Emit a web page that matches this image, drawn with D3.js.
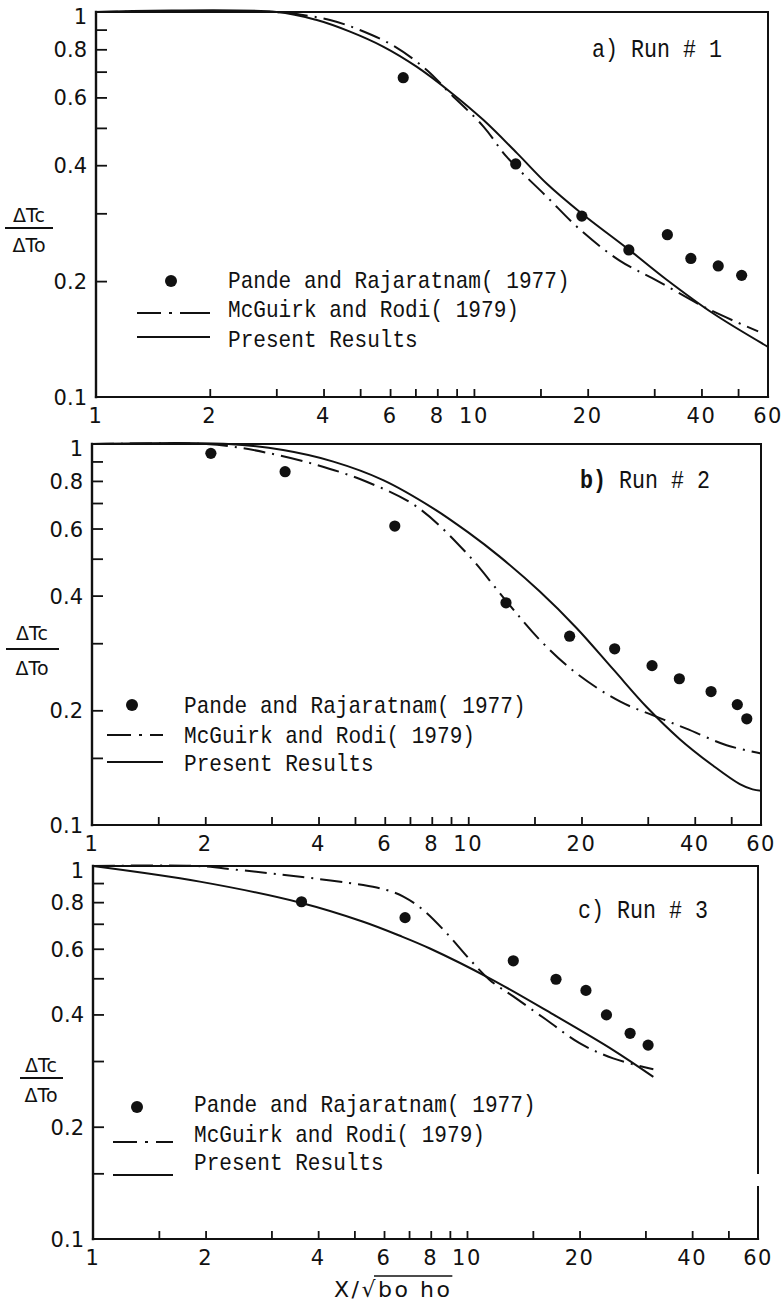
<!DOCTYPE html>
<html>
<head>
<meta charset="utf-8">
<script src="https://cdn.jsdelivr.net/npm/d3@7"></script>
<style>
  html, body { margin: 0; padding: 0; background: #fff; }
  svg { display: block; }
</style>
</head>
<body>
<svg id="chart" width="784" height="1308"></svg>
<script>
// ---- tick values (log–log axes) ----
const xTickLabels = [1, 2, 4, 6, 8, 10, 20, 40, 60];
const xMinorTicks = [1.5, 3, 5, 7, 9, 15, 30, 50];
const yTickLabels = [1, 0.8, 0.6, 0.4, 0.2, 0.1];
const yMinorTicks = [0.9, 0.7, 0.5, 0.3, 0.15];

const legendLabels = ["Pande and Rajaratnam( 1977)", "McGuirk and Rodi( 1979)", "Present Results"];
const runLetters = ["a)", "b)", "c)"];
const runTitles = ["Run # 1", "Run # 2", "Run # 3"];

// ---- Run 1: [x/sqrt(bo ho), ΔTc/ΔTo] ----
const run1Measured = [[6.5, 0.675], [12.9, 0.403], [19.3, 0.295], [25.7, 0.241], [32.5, 0.264], [37.5, 0.229], [44.3, 0.219], [51.1, 0.207]];
const run1McGuirk = [[1, 1], [3, 1], [3.46, 0.985], [4.16, 0.953], [4.99, 0.898], [6.18, 0.813], [7.5, 0.707], [8.64, 0.615], [10.6, 0.504], [12.2, 0.421], [15.6, 0.331], [19.1, 0.272], [24.3, 0.226], [30.4, 0.201], [41.3, 0.170], [56.5, 0.148]];
const run1Present = [[1, 1], [3, 1], [3.84, 0.953], [4.7, 0.889], [5.75, 0.813], [7.05, 0.721], [8.64, 0.621], [10.6, 0.524], [13, 0.43], [15.6, 0.358], [19.1, 0.302], [25.9, 0.240], [32.3, 0.202], [42.9, 0.165], [60, 0.135]];

// ---- Run 2 ----
const run2Measured = [[2.07, 0.945], [3.26, 0.846], [6.38, 0.609], [12.6, 0.383], [18.6, 0.313], [24.5, 0.29], [30.8, 0.262], [36.4, 0.242], [44.2, 0.224], [51.9, 0.207], [55.0, 0.19]];
const run2McGuirk = [[1, 1], [2.0, 1.0], [2.37, 0.984], [2.91, 0.949], [3.96, 0.881], [5.37, 0.796], [7.29, 0.685], [9.9, 0.517], [12.65, 0.386], [15.5, 0.306], [19.4, 0.25], [25.3, 0.211], [31, 0.194], [38, 0.179], [48.6, 0.162], [60, 0.154]];
const run2Present = [[1, 1], [2.3, 1.0], [3.22, 0.964], [4.38, 0.899], [5.94, 0.804], [8.07, 0.678], [10, 0.586], [12.1, 0.507], [15.5, 0.41], [19.4, 0.329], [24.3, 0.256], [29.8, 0.204], [36.5, 0.168], [44.8, 0.143], [52.7, 0.128], [57, 0.124], [60, 0.123]];

// ---- Run 3 ----
const run3Measured = [[3.61, 0.802], [6.83, 0.727], [13.3, 0.557], [17.3, 0.497], [20.8, 0.464], [23.6, 0.399], [27.3, 0.356], [30.5, 0.331]];
const run3McGuirk = [[1, 1], [1.9, 1.0], [2.4, 0.978], [2.97, 0.956], [3.58, 0.936], [5.28, 0.889], [6.1, 0.862], [6.76, 0.828], [7.64, 0.762], [8.83, 0.66], [10.2, 0.56], [11.5, 0.495], [13.3, 0.447], [16.3, 0.387], [20, 0.335], [24.6, 0.305], [31.5, 0.285]];
const run3Present = [[1, 1], [1.93, 0.908], [3.61, 0.796], [5.28, 0.709], [6.62, 0.650], [7.96, 0.601], [11.5, 0.5], [17, 0.40], [24.6, 0.321], [31.5, 0.272]];

const runs = [
  { measured: run1Measured, mcguirk: run1McGuirk, present: run1Present },
  { measured: run2Measured, mcguirk: run2McGuirk, present: run2Present },
  { measured: run3Measured, mcguirk: run3McGuirk, present: run3Present }
];

// ---- panel geometry ----
const panels = [
  { left: 96, right: 768, top: 12, bottom: 397, minorX: xMinorTicks.filter(d => d !== 1.5), minorY: yMinorTicks.filter(d => d !== 0.15),
    title: { x: 592, y: 57, bold: false },
    yLab: { cx: 29, top: 222, bar: 228, bot: 252, x0: 5, x1: 53 },
    legend: { dot: [171, 281], lineX: [137, 210], dashY: 313, solidY: 337, textX: 228, rows: [288, 317, 347] } },
  { left: 92, right: 761, top: 444, bottom: 825, minorX: xMinorTicks, minorY: yMinorTicks,
    title: { x: 580, y: 488, bold: true },
    yLab: { cx: 32, top: 640, bar: 649, bot: 675, x0: 6, x1: 59 },
    legend: { dot: [132, 705], lineX: [107, 163], dashY: 735, solidY: 762, textX: 184, rows: [713, 743, 771] } },
  { left: 93, right: 758, top: 866, bottom: 1239, minorX: xMinorTicks, minorY: yMinorTicks, rightGap: [1173, 1187],
    title: { x: 578, y: 918, bold: false },
    yLab: { cx: 41, top: 1072, bar: 1078, bot: 1102, x0: 20, x1: 63 },
    legend: { dot: [137, 1107], lineX: [113, 173], dashY: 1142, solidY: 1175, textX: 194, rows: [1112, 1142, 1170] } }
];

const svg = d3.select("#chart");
const ink = "#111";
const sansFont = "'DejaVu Sans', sans-serif";
const monoFont = "'Liberation Mono', monospace";
const dashDot = "22,7,2,7";
const monoCharW = 12.65;

function monoText(g, x, y, str, opts = {}) {
  return g.append("text")
    .attr("x", x).attr("y", y)
    .attr("font-family", monoFont)
    .attr("font-size", opts.size || 24)
    .attr("font-weight", opts.bold ? "bold" : "normal")
    .attr("fill", ink)
    .attr("textLength", str.length * (opts.charW || monoCharW))
    .attr("lengthAdjust", "spacingAndGlyphs")
    .text(str);
}

panels.forEach((p, i) => {
  const run = runs[i];
  const g = svg.append("g");

  const x = d3.scaleLog().domain([1, 60]).range([p.left, p.right]);
  const y = d3.scaleLog().domain([0.1, 1]).range([p.bottom, p.top]);

  // inward ticks on the bottom axis
  const xAxis = d3.axisTop(x)
    .tickValues(xTickLabels.slice(1, -1).concat(p.minorX))
    .tickSize(8).tickFormat("");
  g.append("g").attr("transform", `translate(0,${p.bottom})`).call(xAxis)
    .call(s => s.select(".domain").remove())
    .call(s => s.selectAll("line").attr("stroke", ink).attr("stroke-width", 1.8));

  // inward ticks on the left axis
  const yAxis = d3.axisRight(y)
    .tickValues(yTickLabels.slice(1, -1).concat(p.minorY))
    .tickSize(11).tickFormat("");
  g.append("g").attr("transform", `translate(${p.left},0)`).call(yAxis)
    .call(s => s.select(".domain").remove())
    .call(s => s.selectAll("line").attr("stroke", ink).attr("stroke-width", 1.8));

  // frame
  const frame = g.append("g").attr("stroke", ink).attr("fill", "none").attr("stroke-linecap", "square");
  frame.append("line").attr("x1", p.left).attr("x2", p.right).attr("y1", p.top).attr("y2", p.top).attr("stroke-width", 2);
  frame.append("line").attr("x1", p.left).attr("x2", p.right).attr("y1", p.bottom).attr("y2", p.bottom).attr("stroke-width", 2.2);
  frame.append("line").attr("x1", p.left).attr("x2", p.left).attr("y1", p.top).attr("y2", p.bottom).attr("stroke-width", 2.4);
  if (p.rightGap) {
    frame.append("line").attr("x1", p.right).attr("x2", p.right).attr("y1", p.top).attr("y2", p.rightGap[0]).attr("stroke-width", 2);
    frame.append("line").attr("x1", p.right).attr("x2", p.right).attr("y1", p.rightGap[1]).attr("y2", p.bottom).attr("stroke-width", 2);
  } else {
    frame.append("line").attr("x1", p.right).attr("x2", p.right).attr("y1", p.top).attr("y2", p.bottom).attr("stroke-width", 2);
  }

  // tick labels
  g.selectAll(".xl").data(xTickLabels).join("text")
    .attr("x", d => x(d)).attr("y", p.bottom + 26)
    .attr("text-anchor", "middle")
    .attr("font-family", sansFont).attr("font-size", 21).attr("letter-spacing", 1.5)
    .attr("fill", ink)
    .text(d => d);
  g.selectAll(".yl").data(yTickLabels).join("text")
    .attr("x", p.left - 9).attr("y", d => y(d) + (d === 1 ? 12 : 8))
    .attr("text-anchor", "end")
    .attr("font-family", sansFont).attr("font-size", 21)
    .attr("fill", ink)
    .text(d => d);

  // y-axis quantity: ΔTc / ΔTo
  const yl = p.yLab;
  g.append("text").attr("x", yl.cx).attr("y", yl.top).attr("text-anchor", "middle")
    .attr("font-family", sansFont).attr("font-size", 19).attr("fill", ink).text("ΔTc");
  g.append("line").attr("x1", yl.x0).attr("x2", yl.x1).attr("y1", yl.bar).attr("y2", yl.bar)
    .attr("stroke", ink).attr("stroke-width", 2);
  g.append("text").attr("x", yl.cx).attr("y", yl.bot).attr("text-anchor", "middle")
    .attr("font-family", sansFont).attr("font-size", 19).attr("fill", ink).text("ΔTo");

  // curves
  const line = d3.line().x(d => x(d[0])).y(d => y(d[1])).curve(d3.curveCatmullRom.alpha(0.5));
  g.append("path").datum(run.mcguirk).attr("d", line)
    .attr("fill", "none").attr("stroke", ink).attr("stroke-width", 2).attr("stroke-dasharray", dashDot);
  g.append("path").datum(run.present).attr("d", line)
    .attr("fill", "none").attr("stroke", ink).attr("stroke-width", 2);

  // measured points
  g.selectAll(".pt").data(run.measured).join("circle")
    .attr("cx", d => x(d[0])).attr("cy", d => y(d[1])).attr("r", 5.6).attr("fill", ink);

  // run title
  const t = p.title;
  monoText(g, t.x, t.y, runLetters[i], { bold: t.bold, size: 26, charW: 13 });
  monoText(g, t.x + 3 * 13, t.y, runTitles[i], { size: 26, charW: 13 });

  // legend
  const lg = p.legend;
  g.append("circle").attr("cx", lg.dot[0]).attr("cy", lg.dot[1]).attr("r", 6).attr("fill", ink);
  g.append("line").attr("x1", lg.lineX[0]).attr("x2", lg.lineX[1]).attr("y1", lg.dashY).attr("y2", lg.dashY)
    .attr("stroke", ink).attr("stroke-width", 2).attr("stroke-dasharray", "24,8,3,8,40");
  g.append("line").attr("x1", lg.lineX[0]).attr("x2", lg.lineX[1]).attr("y1", lg.solidY).attr("y2", lg.solidY)
    .attr("stroke", ink).attr("stroke-width", 2);
  legendLabels.forEach((lab, k) => monoText(g, lg.textX, lg.rows[k], lab));
});

// x-axis quantity under the last panel: X / sqrt(bo ho)
const xt = svg.append("g");
const head = xt.append("text").attr("x", 334).attr("y", 1297)
  .attr("font-family", sansFont).attr("font-size", 22).attr("letter-spacing", 2.5).attr("fill", ink).text("X/√");
const headW = head.node().getComputedTextLength();
const tail = xt.append("text").attr("x", 334 + headW).attr("y", 1297)
  .attr("font-family", sansFont).attr("font-size", 22).attr("letter-spacing", 2.5).attr("fill", ink).text("bo ho");
const tailW = tail.node().getComputedTextLength();
xt.append("line").attr("x1", 334 + headW - 4).attr("x2", 334 + headW + tailW)
  .attr("y1", 1276).attr("y2", 1276).attr("stroke", ink).attr("stroke-width", 1.6);
</script>
</body>
</html>
